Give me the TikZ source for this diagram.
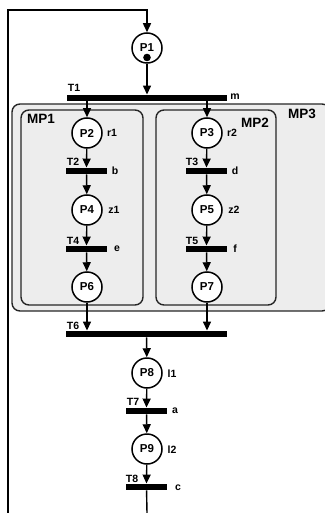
\documentclass[tikz,border=0pt]{standalone}
\usepackage{fontspec}
\setmainfont{Liberation Sans}
\usetikzlibrary{arrows.meta}
\begin{document}
\begin{tikzpicture}[x=1pt,y=-1pt,
  place/.style={circle,draw,line width=1.5pt,fill=white,minimum size=30pt,inner sep=0pt,font=\fontsize{11.5}{13}\bfseries},
  trans/.style={rectangle,fill=black,minimum height=6.5pt,inner sep=0pt},
  lbl/.style={font=\fontsize{10.5}{12}\bfseries,inner sep=0pt},
  boxlbl/.style={font=\fontsize{13.5}{15}\bfseries,inner sep=0pt},
  arr/.style={line width=1.4pt,-{Triangle[length=9pt,width=8pt]}},
  ln/.style={line width=1.4pt},
  macro/.style={draw=black!85,line width=1.4pt,rounded corners=8pt}]
\useasboundingbox (0,0) rectangle (324,513);

% macro places
\draw[macro,fill=black!7] (12,104) rectangle (330,311);
\draw[macro,fill=black!7] (21,110) rectangle (143,305);
\draw[macro,fill=black!7] (156,110) rectangle (276,305);
\node[boxlbl] (mp3) at (302,114) {MP3};
\node[boxlbl] (mp1) at (41,119) {MP1};
\node[boxlbl] (mp2) at (255,123) {MP2};

% places
\node[place] (P1) at (147,48) {P1};
\fill (147,57.5) circle (3.8pt);
\node[place] (P2) at (87,133) {P2};
\node[place] (P3) at (207,133) {P3};
\node[place] (P4) at (87,210) {P4};
\node[place] (P5) at (207,210) {P5};
\node[place] (P6) at (87,287) {P6};
\node[place] (P7) at (207,287) {P7};
\node[place] (P8) at (147,373) {P8};
\node[place] (P9) at (147,449) {P9};

% transitions
\node[trans,minimum width=160pt] (T1) at (147,98) {};
\node[trans,minimum width=41pt] (T2) at (86.5,171) {};
\node[trans,minimum width=41pt] (T3) at (206.5,171) {};
\node[trans,minimum width=41pt] (T4) at (86.5,249) {};
\node[trans,minimum width=41pt] (T5) at (206.5,249) {};
\node[trans,minimum width=161pt] (T6) at (146.5,334) {};
\node[trans,minimum width=41pt] (T7) at (146.5,411) {};
\node[trans,minimum width=41pt] (T8) at (146.5,487) {};

% labels
\node[lbl] (lT1) at (74,88) {T1};
\node[lbl] (lm) at (235,97) {m};
\node[lbl] (lr1) at (112,133) {r1};
\node[lbl] (lr2) at (232,133) {r2};
\node[lbl] (lT2) at (73,162) {T2};
\node[lbl] (lb) at (115,171) {b};
\node[lbl] (lT3) at (192,162) {T3};
\node[lbl] (ld) at (235,171) {d};
\node[lbl] (lz1) at (114,210) {z1};
\node[lbl] (lz2) at (234,210) {z2};
\node[lbl] (lT4) at (73,241) {T4};
\node[lbl] (le) at (117,249) {e};
\node[lbl] (lT5) at (192,241) {T5};
\node[lbl] (lf) at (235,249) {f};
\node[lbl] (lT6) at (73,326) {T6};
\node[lbl] (ll1) at (172,374) {l1};
\node[lbl] (lT7) at (133,402) {T7};
\node[lbl] (la) at (175,411) {a};
\node[lbl] (ll2) at (172,450) {l2};
\node[lbl] (lT8) at (132,479) {T8};
\node[lbl] (lc) at (178,488) {c};

% arcs
\coordinate (cBot) at (147,513);
\coordinate (cLB) at (8,513);
\coordinate (cLT) at (8,10);
\coordinate (cTop) at (147,10);
\draw[arr] (cLB) -- (cLT) -- (cTop) -- (P1);
\draw[ln] (T8) -- (cBot);
\draw[arr] (P1) -- (T1.north);
\draw[arr] (T1.south -| P2) -- (P2);
\draw[arr] (T1.south -| P3) -- (P3);
\draw[arr] (P2) -- (T2.north);
\draw[arr] (P3) -- (T3.north);
\draw[arr] (T2) -- (P4);
\draw[arr] (T3) -- (P5);
\draw[arr] (P4) -- (T4.north);
\draw[arr] (P5) -- (T5.north);
\draw[arr] (T4) -- (P6);
\draw[arr] (T5) -- (P7);
\draw[arr] (P6) -- (T6.north -| P6);
\draw[arr] (P7) -- (T6.north -| P7);
\draw[arr] (T6) -- (P8);
\draw[arr] (P8) -- (T7.north);
\draw[arr] (T7) -- (P9);
\draw[arr] (P9) -- (T8.north);
\end{tikzpicture}
\end{document}
